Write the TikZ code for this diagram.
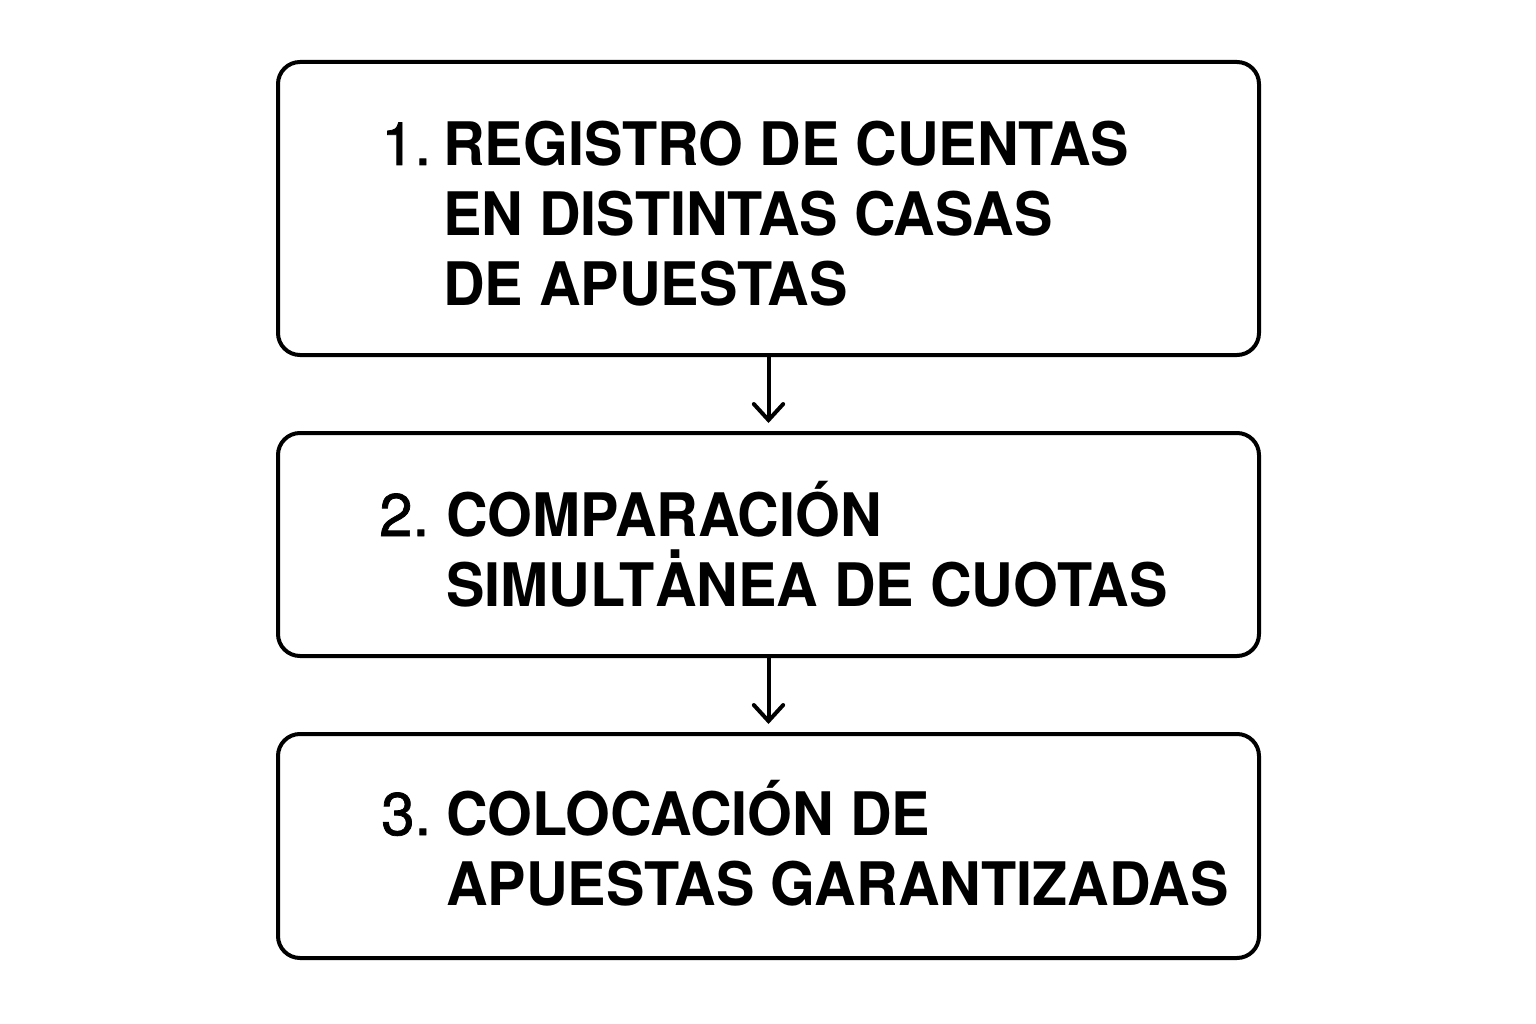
\documentclass[tikz,border=0pt]{standalone}
\usepackage{fontspec}
\setmainfont{TeX Gyre Heros}
\newfontfamily\stepfont[FakeStretch=0.96]{TeX Gyre Heros}
\newfontfamily\numfont[FakeBold=1.2]{TeX Gyre Heros}
\newcommand{\dotA}{\ooalign{A\cr\hidewidth\raisebox{0.8em}{.}\hidewidth\cr}}
\usetikzlibrary{arrows.meta}

\tikzset{
  stepbox/.style={draw, line width=3pt, rounded corners=16.5pt, minimum width=735.75pt, inner sep=0pt},
  stepnum/.style={anchor=base west, inner sep=0pt, font=\fontsize{45}{52.5}\selectfont\numfont},
  steptext/.style={anchor=base west, inner sep=0pt, align=left, font=\fontsize{45}{52.5}\selectfont\stepfont\bfseries},
  flow/.style={line width=3pt, -{Straight Barb[length=12pt, width=22pt, line cap=round]}, shorten >=6pt}
}

\begin{document}
\begin{tikzpicture}[x=0.75pt,y=0.75pt,yscale=-1,xscale=1]
\useasboundingbox (0,0) rectangle (1536,1024);

%Shape: Rounded Rect [id:box1] 
\node [stepbox, minimum height=219.75pt] (box1) at (768.5,208.5) {};
%Shape: Rounded Rect [id:box2] 
\node [stepbox, minimum height=167.25pt] (box2) at (768.5,544.5) {};
%Shape: Rounded Rect [id:box3] 
\node [stepbox, minimum height=168pt] (box3) at (768.5,846) {};

%Straight Lines [id:flow12] 
\draw [flow] (box1.south) -- (box2.north) ;
%Straight Lines [id:flow23] 
\draw [flow] (box2.south) -- (box3.north) ;

% Text Node
\node [stepnum] (num1) at (381,165) {1.};
% Text Node
\node [steptext] (txt1) at (443,305) {REGISTRO DE CUENTAS\\EN DISTINTAS CASAS\\DE APUESTAS};
% Text Node
\node [stepnum] (num2) at (379,536) {2.};
% Text Node
\node [steptext] (txt2) at (446,606) {COMPARACIÓN\\SIMULT\dotA NEA DE CUOTAS};
% Text Node
\node [stepnum] (num3) at (381,835) {3.};
% Text Node
\node [steptext] (txt3) at (446,905) {COLOCACIÓN DE\\APUESTAS GARANTIZADAS};

\end{tikzpicture}
\end{document}
